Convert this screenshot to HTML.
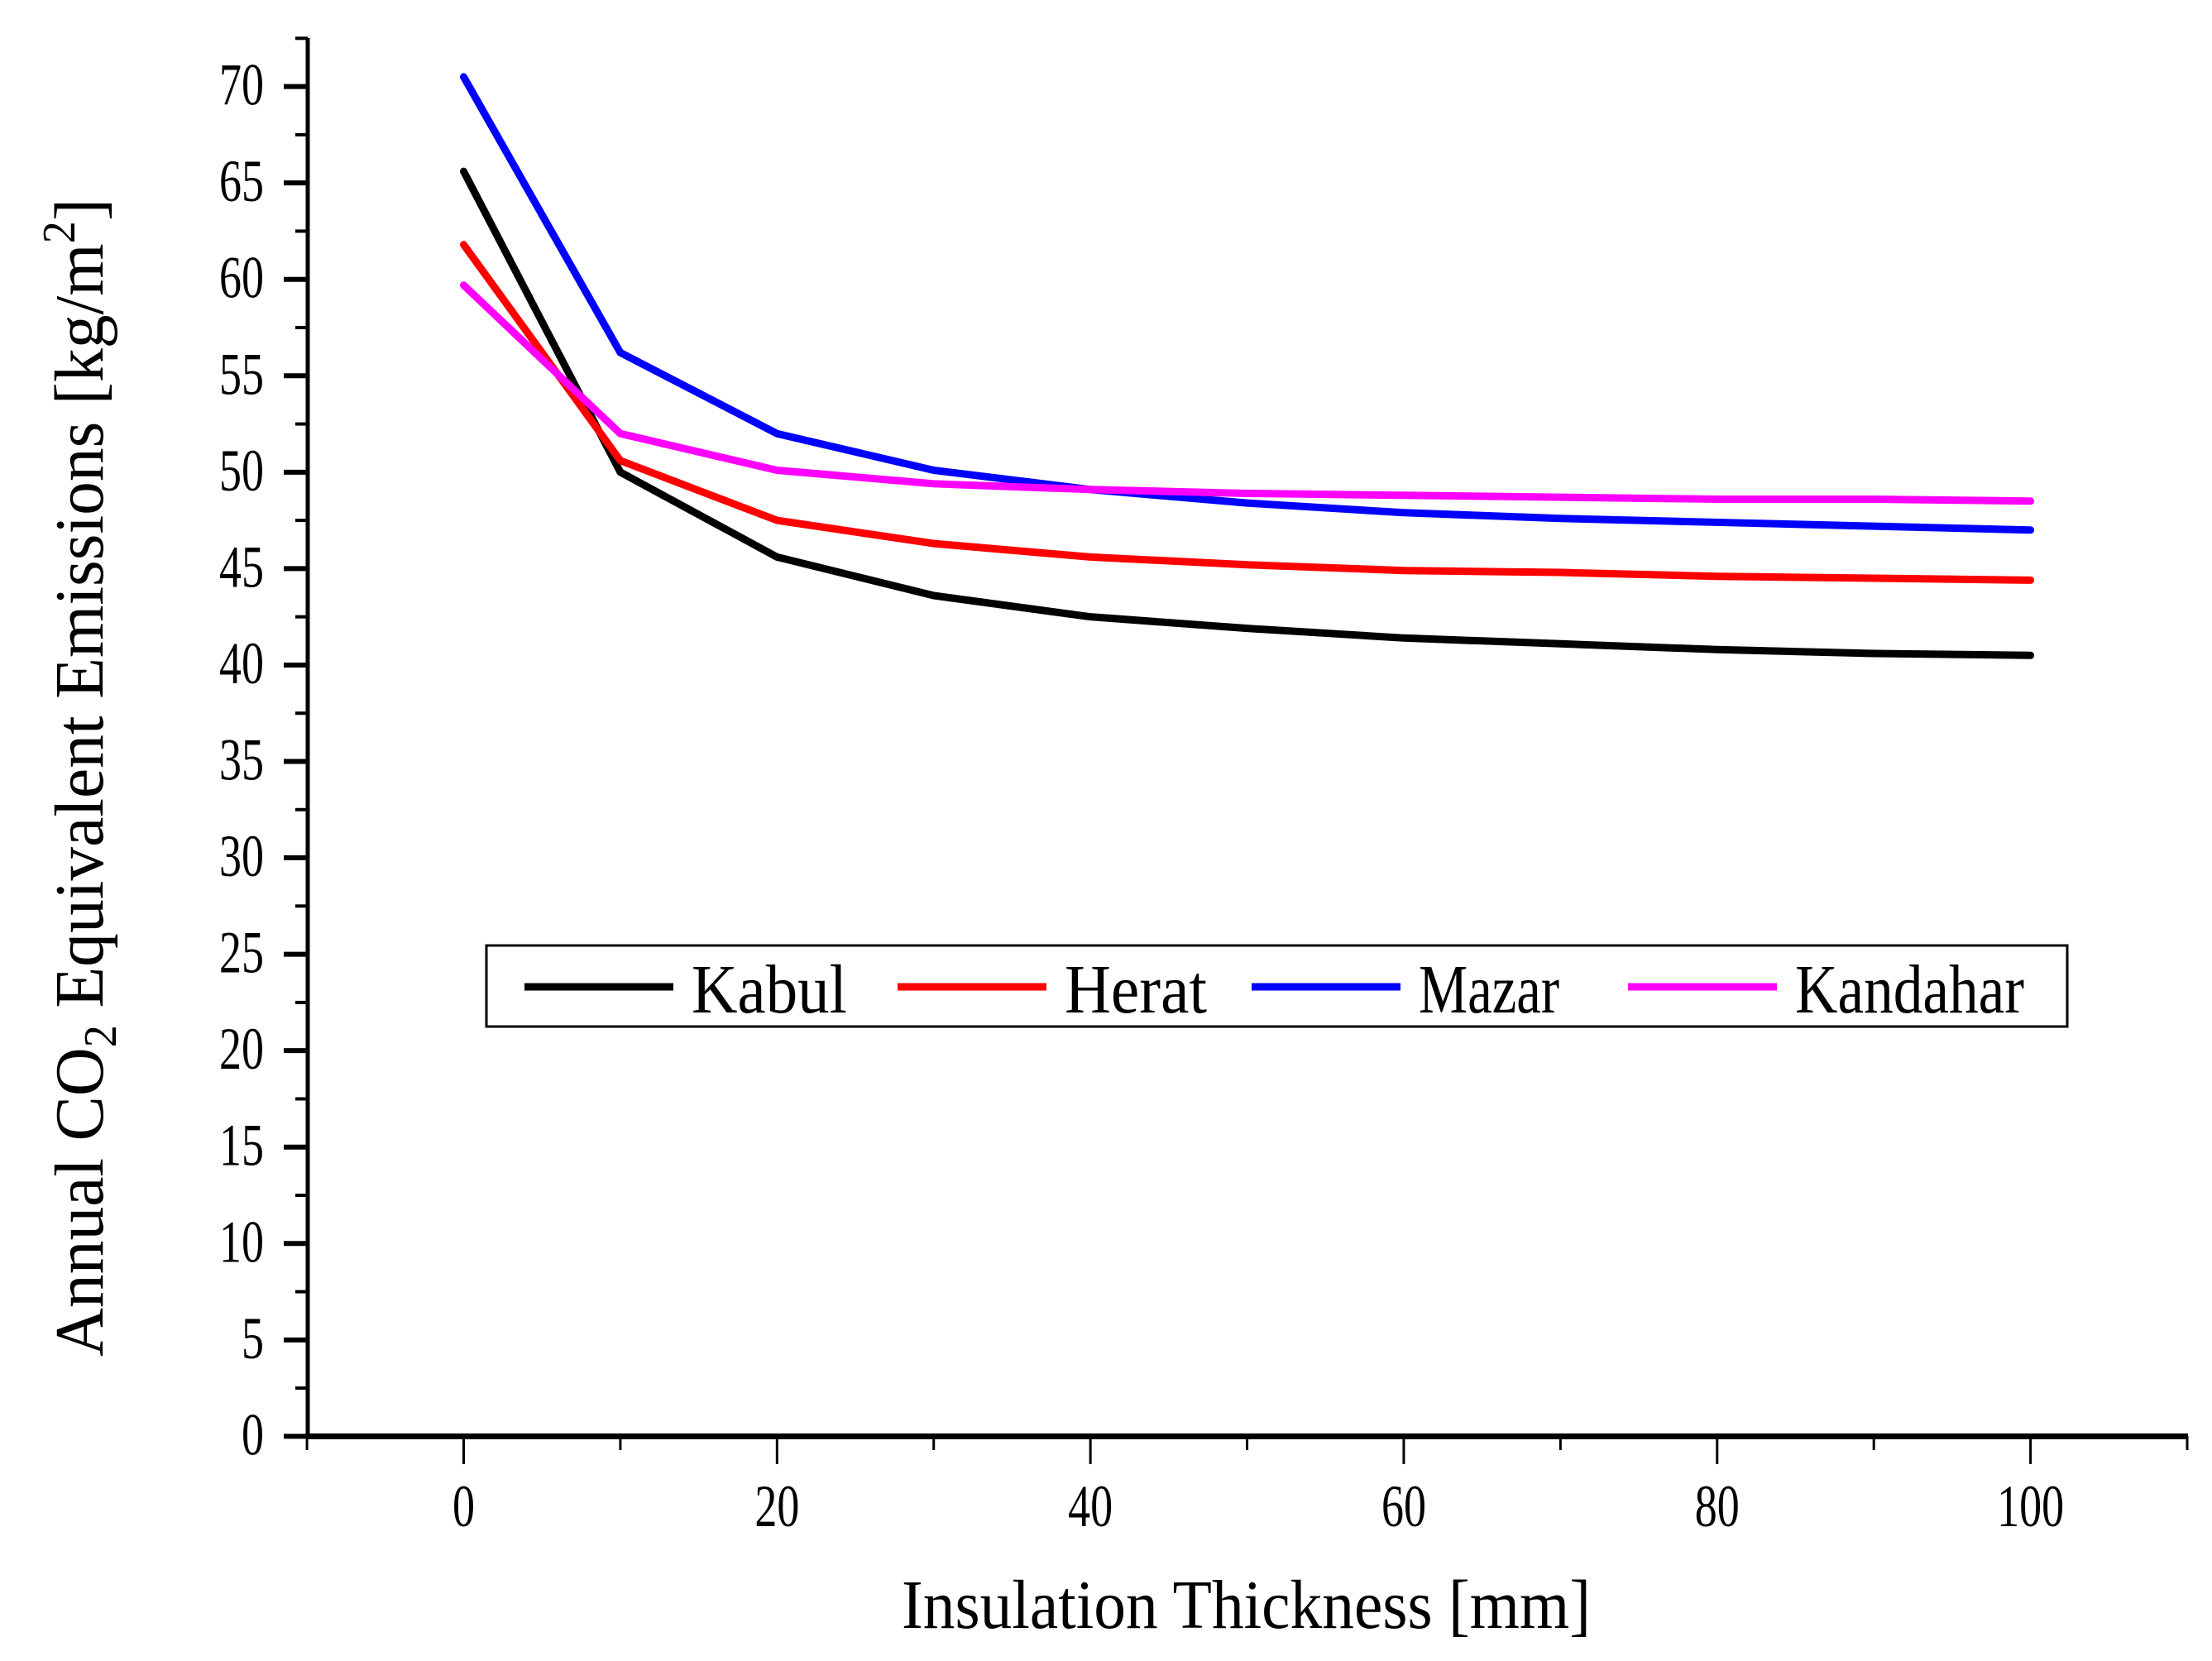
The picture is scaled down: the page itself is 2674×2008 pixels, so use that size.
<!DOCTYPE html>
<html><head><meta charset="utf-8"><style>html,body{margin:0;padding:0;background:#fff}svg{display:block}</style></head>
<body>
<svg id="chart" width="2674" height="2008" viewBox="0 0 2674 2008" xmlns="http://www.w3.org/2000/svg" font-family="'Liberation Serif', serif">
<g id="axes"></g>
<g id="series"></g>
<text x="1090" y="1968" font-size="84" textLength="833" lengthAdjust="spacingAndGlyphs">Insulation Thickness [mm]</text>
<text transform="translate(124,1640) rotate(-90)" font-size="84" textLength="1400" lengthAdjust="spacingAndGlyphs">Annual CO<tspan font-size="56" dy="16">2</tspan><tspan dy="-16"> Equivalent Emissions [kg/m</tspan><tspan font-size="56" dy="-34">2</tspan><tspan dy="34">]</tspan></text>
<g>
<rect x="588" y="1143" width="1911" height="98" fill="#fff" stroke="#000" stroke-width="3"/>
<g id="legend-entries"></g>
</g>
</svg>
<script>
const categories=[0,10,20,30,40,50,60,70,80,90,100];
const seriesNames=["Kabul","Herat","Mazar","Kandahar"];
const kabul=[65.6,50.0,45.6,43.6,42.5,41.9,41.4,41.1,40.8,40.6,40.5];
const herat=[61.8,50.6,47.5,46.3,45.6,45.2,44.9,44.8,44.6,44.5,44.4];
const mazar=[70.5,56.2,52.0,50.1,49.1,48.4,47.9,47.6,47.4,47.2,47.0];
const kandahar=[59.7,52.0,50.1,49.4,49.1,48.9,48.8,48.7,48.6,48.6,48.5];
const yTicks=[0,5,10,15,20,25,30,35,40,45,50,55,60,65,70];
const xTicks=[0,20,40,60,80,100];
const NS="http://www.w3.org/2000/svg";
const colors=["#000000","#ff0000","#0000ff","#ff00ff"];
const allSeries=[kabul,herat,mazar,kandahar];
function xs(v){return 560.5+(v/100)*(2454.6-560.5);}
function ys(v){return 1736.4-(v/70)*(1736.4-104.6);}
function mk(tag,attrs,parent){const e=document.createElementNS(NS,tag);for(const k in attrs)e.setAttribute(k,attrs[k]);parent.appendChild(e);return e;}
const axes=document.getElementById('axes');
const yAxis=mk('line',{x1:372,y1:46,x2:372,y2:1739,stroke:'#000','stroke-width':5},axes);


const xAxis=mk('line',{x1:370,y1:1736.4,x2:2645,y2:1736.4,stroke:'#000','stroke-width':7},axes);


for(let v=0;v<=72.5;v+=2.5){
  const major=(v%5===0);
  const t=mk('line',{x1:major?343:357,y1:ys(v),x2:372,y2:ys(v),stroke:'#000','stroke-width':major?6:4},axes);
  
  
}
yTicks.forEach(v=>{
  const s=String(v);
  const t=mk('text',{x:319,y:ys(v)+22,'font-size':72,'text-anchor':'end',textLength:s.length*27,lengthAdjust:'spacingAndGlyphs'},axes);
  t.textContent=s;
  
  
});
for(let v=-10;v<=110;v+=10){
  const major=(v%20===0)&&v>=0&&v<=100;
  const t=mk('line',{x1:xs(v),y1:1736,x2:xs(v),y2:major?1770:1753,stroke:'#000','stroke-width':3},axes);
  
  
}
xTicks.forEach(v=>{
  const s=String(v);
  const t=mk('text',{x:xs(v),y:1845,'font-size':72,'text-anchor':'middle',textLength:s.length*27,lengthAdjust:'spacingAndGlyphs'},axes);
  t.textContent=s;
  
  
});
const sg=document.getElementById('series');
allSeries.forEach((arr,i)=>{
  const pts=arr.map((v,j)=>xs(categories[j])+','+ys(v)).join(' ');
  const p=mk('polyline',{points:pts,fill:'none',stroke:colors[i],'stroke-width':9,'stroke-linejoin':'round','stroke-linecap':'round'},sg);
  
  
});
const lg=document.getElementById('legend-entries');
const lx=[634,1085,1513,1968];
const tw=[188,172,170,277];
seriesNames.forEach((n,i)=>{
  const l=mk('line',{x1:lx[i],y1:1193,x2:lx[i]+180,y2:1193,stroke:colors[i],'stroke-width':9},lg);
  
  
  const t=mk('text',{x:lx[i]+202,y:1224,'font-size':84,textLength:tw[i],lengthAdjust:'spacingAndGlyphs'},lg);
  t.textContent=n;
  
  
});
</script>
</body></html>
